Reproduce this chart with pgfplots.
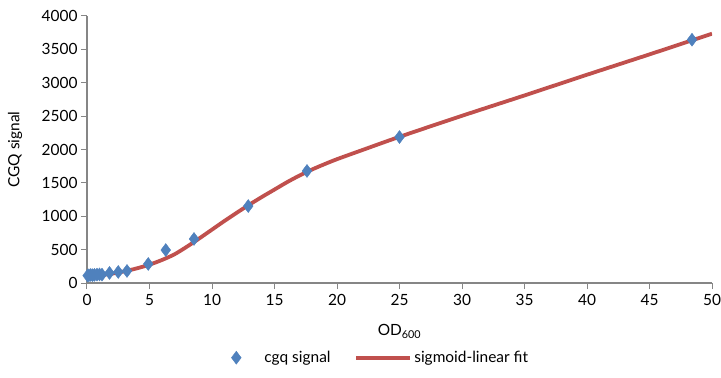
\documentclass[border=0pt]{standalone}
\usepackage{fontspec}
\setmainfont{Lato}
\usepackage{pgfplots}
\pgfplotsset{compat=1.18}
\definecolor{ptblue}{HTML}{4F81BD}
\definecolor{fitred}{HTML}{C0504D}
\definecolor{axgrey}{HTML}{868686}
\pgfplotsset{
  lineleg/.style={legend image code/.code={\draw[##1] (0bp,0bp) -- (54bp,0bp);}},
  markleg/.style={legend image code/.code={\path[draw=none,fill=none] (-4bp,0bp) -- (26bp,0bp);\draw[##1] plot coordinates {(0bp,0bp)};}},
}
\begin{document}
\begin{tikzpicture}
\begin{axis}[
  width=625bp, height=267bp, scale only axis,
  xmin=0, xmax=50, ymin=0, ymax=4000,
  xtick={0,5,...,50}, ytick={0,500,...,4000},
  axis x line=bottom, axis y line=left,
  axis line style={-, draw=axgrey, line width=1.2bp},
  tick style={draw=axgrey, line width=1bp},
  tick align=outside, major tick length=6bp,
  tick label style={font=\fontsize{15.5}{17}\selectfont},
  /pgf/number format/assume math mode=true,
  /pgf/number format/set thousands separator={},
  xticklabel style={yshift=-2bp},
  xlabel={OD\textsubscript{600}},
  ylabel={CGQ signal},
  label style={font=\fontsize{15.5}{17}\selectfont},
  xlabel style={at={(axis description cs:0.5,-0.18)}, anchor=center},
  ylabel style={at={(axis description cs:-0.115,0.5)}, anchor=center},
  legend columns=2,
  legend style={at={(0.47,-0.24)}, anchor=north, draw=none, font=\fontsize{15.5}{17}\selectfont,
    /tikz/every even column/.append style={column sep=22bp}},
  legend cell align=left,
]
\addplot[only marks, mark=diamond*, mark size=6.5bp, color=ptblue, markleg]
  coordinates {(0.05,110)(0.15,115)(0.3,120)(0.45,118)(0.6,122)(0.8,125)(1.0,128)(1.2,125)
  (1.8,150)(2.5,165)(3.2,180)(4.9,285)(6.3,494)(8.56,660)(12.9,1153)(17.6,1678)(25.0,2187)(48.4,3645)};
\addlegendentry{cgq signal}
\addplot[smooth, line width=3.8bp, color=fitred, mark=none, lineleg]
  coordinates {(0,100)(1,115)(2,140)(3,175)(4,220)(5,275)(6,345)(7,430)(8,545)(9,670)(10,800)
  (11,930)(12,1055)(13,1175)(14,1290)(15,1400)(16,1510)(17,1610)(18,1700)(19,1780)(20,1855)
  (22,1990)(25,2190)(30,2505)(35,2810)(40,3120)(45,3425)(50,3735)};
\addlegendentry{sigmoid-linear fit}
\end{axis}
\pgfresetboundingbox
\path ([shift={(-87bp,-95bp)}]current axis.south west) rectangle ([shift={(9bp,16bp)}]current axis.north east);
\end{tikzpicture}
\end{document}
